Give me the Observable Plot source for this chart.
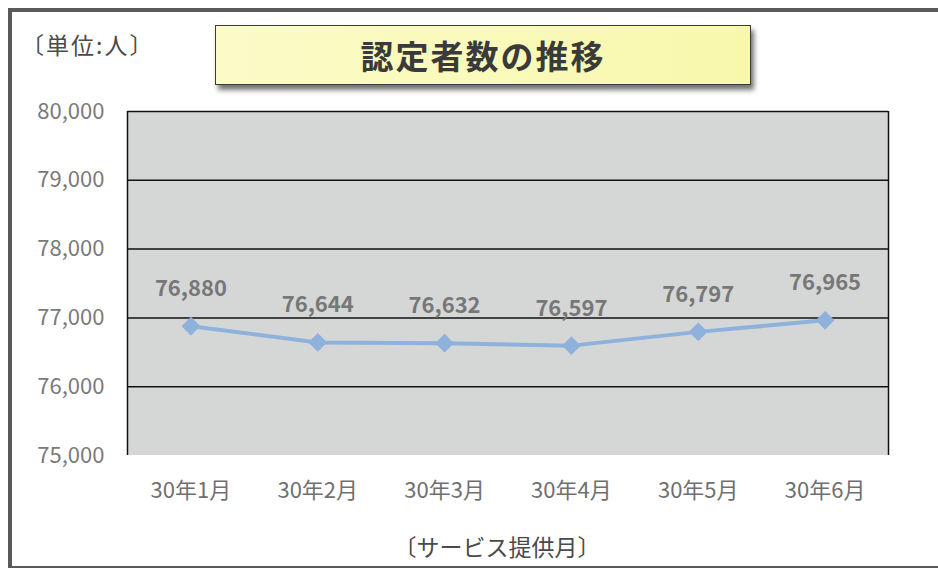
<!DOCTYPE html>
<html><head><meta charset="utf-8">
<script src="https://cdn.jsdelivr.net/npm/d3@7"></script>
<script src="https://cdn.jsdelivr.net/npm/@observablehq/plot@0.6"></script>
<style>
body{margin:0;background:#fff;}
#wrap{position:relative;width:938px;height:568px;overflow:hidden;font-family:"Noto Sans CJK JP","Noto Sans",sans-serif;}
#frame{position:absolute;left:8px;top:8px;width:940px;height:554px;border:4px solid #5a5a5a;box-sizing:content-box;}
#unit{position:absolute;left:21px;top:27px;font-size:23px;letter-spacing:2px;color:#4a4a4a;}
#titlebox{position:absolute;left:215px;top:25px;width:534px;height:58px;background:linear-gradient(90deg,#fbfbc8,#f8f8ad);border:1.5px solid #3a3a3a;box-shadow:3px 5px 5px rgba(0,0,0,0.55);display:flex;align-items:center;justify-content:center;font-size:33px;font-weight:bold;color:#3a3a3a;letter-spacing:2px;}
#xlabel{position:absolute;left:0;width:994px;top:529px;text-align:center;font-size:23px;color:#4a4a4a;}
#chart{position:absolute;left:0;top:0;}
</style></head>
<body>
<div id="wrap">
  <div id="frame"></div>
  <div id="chart"></div>
  <div id="unit">〔単位:人〕</div>
  <div id="titlebox">認定者数の推移</div>
  <div id="xlabel">〔サービス提供月〕</div>
</div>
<script>
const months = ["30年1月","30年2月","30年3月","30年4月","30年5月","30年6月"];
const values = [76880, 76644, 76632, 76597, 76797, 76965];
const yTicks = [75000, 76000, 77000, 78000, 79000, 80000];
const gridLines = [76000, 77000, 78000, 79000, 80000];

const data = months.map((m, i) => ({i, month: m, value: values[i]}));
const fmt = d3.format(",");

const chart = Plot.plot({
  width: 938,
  height: 568,
  marginLeft: 127,
  marginRight: 50,
  marginTop: 111,
  marginBottom: 113,
  style: {fontFamily: '"Noto Sans CJK JP","Noto Sans",sans-serif', background: "transparent", overflow: "visible"},
  x: {domain: [-0.5, 5.5], label: null},
  y: {domain: [75000, 80000], label: null},
  marks: [
    Plot.rect([0], {x1: -0.5, x2: 5.5, y1: 75000, y2: 80000, fill: "#d5d7d7"}),
    Plot.ruleY(gridLines, {stroke: "#111", strokeWidth: 1.5}),
    Plot.ruleX([-0.5, 5.5], {y1: 75000, y2: 80000, stroke: "#111", strokeWidth: 1.5}),
    Plot.axisX({ticks: d3.range(months.length), tickFormat: i => months[i], tickSize: 0, tickPadding: 27, fontSize: 22, fill: "#707070", label: null}),
    Plot.axisY({ticks: yTicks, tickFormat: fmt, tickSize: 0, tickPadding: 23, fontSize: 22, fill: "#7a7a7a", label: null}),
    Plot.line(data, {x: "i", y: "value", stroke: "#8fb2dc", strokeWidth: 4}),
    Plot.dot(data, {x: "i", y: "value", symbol: "diamond2", r: 7.5, fill: "#8fb2dc", stroke: "#8fb2dc"}),
    Plot.text(data, {x: "i", y: "value", text: d => fmt(d.value), dy: -37, fontSize: 22, fontWeight: 600, fill: "#777777"})
  ]
});
document.getElementById("chart").appendChild(chart);
</script>
</body></html>
